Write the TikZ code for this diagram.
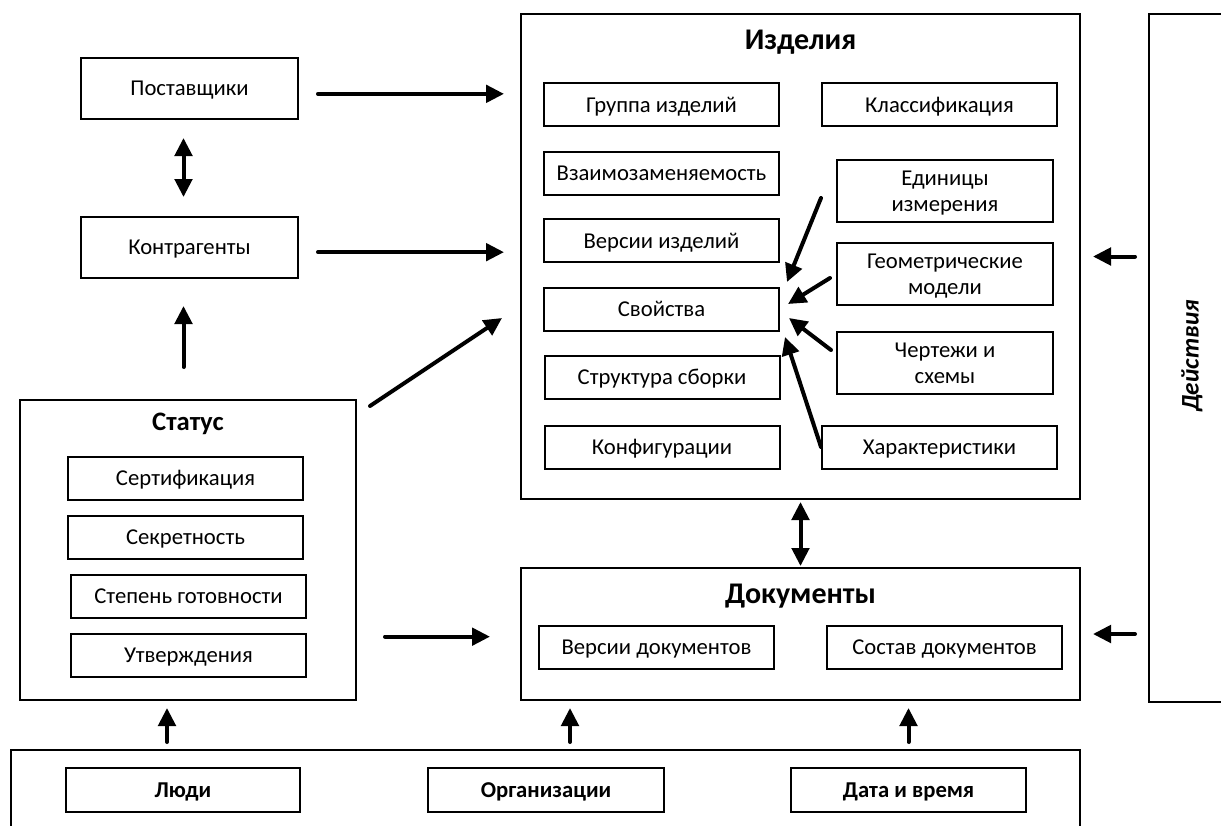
\documentclass[tikz,border=0pt]{standalone}
\usepackage{fontspec}
\setmainfont{Carlito}
\usetikzlibrary{arrows.meta}
\newlength{\Px}
\setlength{\Px}{0.75pt}
\tikzset{
  frame/.style={draw, line width=1.5pt, inner sep=0pt},
  item/.style={draw, line width=1.5pt, inner sep=0pt, align=center,
    minimum width=235\Px, minimum height=43\Px, text depth=0pt,
    font=\fontsize{17}{19.5}\selectfont},
  tall item/.style={item, minimum width=216\Px, minimum height=62\Px},
  side item/.style={item, minimum width=217\Px, minimum height=61\Px},
  base item/.style={item, minimum height=44\Px,
    font=\fontsize{17}{19.5}\selectfont\bfseries},
  title/.style={text depth=0pt, font=\fontsize{22.5}{26}\selectfont\bfseries},
  flow/.style={line width=3pt, line cap=round,
    -{Triangle[length=13.5pt,width=13pt]}},
  flow both/.style={line width=3pt, line cap=round,
    {Triangle[length=13.5pt,width=13pt]}-{Triangle[length=13.5pt,width=13pt]}},
}

\begin{document}
\begin{tikzpicture}[x=0.75pt, y=-0.75pt]
  \useasboundingbox (0,0) rectangle (1221,825);
  \clip (0,0) rectangle (1221,825);

  % suppliers and counterparties
  \node[side item] (post) at (189.5,88.5) {Поставщики};
  \node[side item] (kontr) at (189.5,247.5) {Контрагенты};

  % products
  \node[frame, minimum width=559\Px, minimum height=485\Px] (izd) at (800.5,256.5) {};
  \node[title] (izdT) at (800.5,40) {Изделия};
  \node[item] (grp) at (661.5,104.5) {Группа изделий};
  \node[item] (vzm) at (661.5,173) {Взаимозаменяемость};
  \node[item] (ver) at (661.5,240.5) {Версии изделий};
  \node[item] (svo) at (661.5,309) {Свойства};
  \node[item] (str) at (662,377) {Структура сборки};
  \node[item] (cfg) at (662,447) {Конфигурации};
  \node[item] (cls) at (939.5,104.5) {Классификация};
  \node[tall item] (edi) at (945,191) {Единицы\\измерения};
  \node[tall item] (geo) at (945,274) {Геометрические\\модели};
  \node[tall item] (cher) at (945,363) {Чертежи и\\схемы};
  \node[item] (xar) at (939.5,447) {Характеристики};

  % documents
  \node[frame, minimum width=559\Px, minimum height=132\Px] (doc) at (800.5,634) {};
  \node[title] (docT) at (800.5,594) {Документы};
  \node[item] (verd) at (656.5,647.5) {Версии документов};
  \node[item] (sostd) at (944.5,647.5) {Состав документов};

  % status
  \node[frame, minimum width=336\Px, minimum height=300\Px] (stat) at (188,550) {};
  \node[title, font=\fontsize{20}{24}\selectfont\bfseries] (statT) at (188,422) {Статус};
  \node[item] (sert) at (185.5,478) {Сертификация};
  \node[item] (sekr) at (185.5,537) {Секретность};
  \node[item] (gotov) at (188.5,596) {Степень готовности};
  \node[item] (utv) at (188.5,655) {Утверждения};

  % people, organisations, time
  \node[frame, minimum width=1069\Px, minimum height=90\Px] (bot) at (545.5,795) {};
  \node[base item, minimum width=234\Px] (ludi) at (183,790) {Люди};
  \node[base item, minimum width=236\Px] (org) at (546,790) {Организации};
  \node[base item, minimum width=235\Px] (dt) at (908.5,790) {Дата и время};

  % actions
  \node[frame, minimum width=91\Px, minimum height=688\Px] (act) at (1194.5,358) {};
  \node[rotate=90, font=\fontsize{19}{22}\selectfont\bfseries\itshape] (actT) at (1192,356) {Действия};

  % connectors
  \draw[flow, shorten <=19\Px, shorten >=16\Px] ([yshift=-4pt]post.east) -- ([yshift=-4pt]post.east -| izd.west);
  \draw[flow, shorten <=19\Px, shorten >=16\Px] ([yshift=-3.5pt]kontr.east) -- ([yshift=-3.5pt]kontr.east -| izd.west);
  \draw[flow both, shorten <=18\Px, shorten >=19\Px] ([xshift=-6\Px]post.south) -- ([xshift=-6\Px]kontr.north);
  \draw[flow, shorten <=32\Px, shorten >=27\Px] ([xshift=-6\Px]kontr.south |- stat.north) -- ([xshift=-6\Px]kontr.south);
  \draw[flow] ([shift={(13,7)}]stat.north east) -- ([shift={(-18,61.5)}]izd.west);
  \draw[flow, shorten <=28\Px, shorten >=30\Px] ([yshift=-2pt]stat.east |- doc.west) -- ([yshift=-2pt]doc.west);
  \draw[flow both, shorten <=2\Px, shorten >=1\Px] (izd.south) -- (doc.north);
  \draw[flow, shorten <=13\Px, shorten >=12\Px] (act.west |- izd.east) -- (izd.east);
  \draw[flow, shorten <=13\Px, shorten >=12\Px] (act.west |- doc.east) -- (doc.east);
  \draw[flow, shorten <=7\Px, shorten >=7\Px] ([xshift=-21\Px]stat.south |- bot.north) -- ([xshift=-21\Px]stat.south);
  \draw[flow, shorten <=7\Px, shorten >=7\Px] ([xshift=24\Px]org.north |- bot.north) -- ([xshift=24\Px]org.north |- doc.south);
  \draw[flow, shorten <=7\Px, shorten >=7\Px] (dt.north |- bot.north) -- (dt.north |- doc.south);

  % everything feeds the properties box
  \draw[flow] ([shift={(-15,7)}]edi.west) -- ([shift={(7,-27)}]svo.east);
  \draw[flow] ([shift={(-6,4)}]geo.west) -- ([shift={(8,-5)}]svo.east);
  \draw[flow] ([shift={(-5,-13)}]cher.west) -- ([shift={(9,9)}]svo.east);
  \draw[flow] (xar.west) -- ([shift={(5,28)}]svo.east);
\end{tikzpicture}
\end{document}
